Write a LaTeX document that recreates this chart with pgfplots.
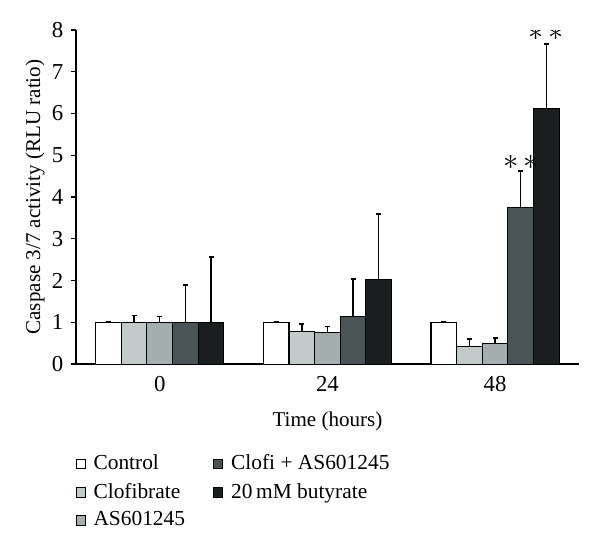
\documentclass[border=0pt]{standalone}
\usepackage{pgfplots}
\pgfplotsset{compat=1.18}
\usepackage{fontspec}
\setmainfont{Liberation Serif}
\definecolor{cA}{HTML}{FFFFFF}
\definecolor{cB}{HTML}{C2CACA}
\definecolor{cC}{HTML}{A5AEAE}
\definecolor{cD}{HTML}{4A5456}
\definecolor{cE}{HTML}{1B1E1F}
\begin{document}
\fontsize{12}{14.4}\selectfont
\begin{tikzpicture}
\useasboundingbox (-43.3pt,-106pt) rectangle (298.7pt,207.5pt);
\begin{axis}[
  at={(0,0)}, anchor=south west,
  scale only axis,
  width=286.7pt, height=190.4pt,
  xmin=-0.5, xmax=2.5, ymin=0, ymax=8,
  axis lines=left,
  axis line style={line width=0.8pt, -},
  ybar=0pt, bar width=0.153,
  xtick={0,1,2}, xticklabels={0,24,48},
  major x tick style={draw=none},
  extra x ticks={0.5,1.5,2.5}, extra x tick labels={},
  extra x tick style={tick style={line width=0.8pt, black}, major tick length=3pt},
  xtick pos=bottom, tick align=outside,
  ytick={0,1,...,8},
  y tick style={line width=0.8pt, black},
  major tick length=3pt,
  /pgf/number format/assume math mode=true,
  ticklabel style={font=\fontsize{13}{15}\selectfont},
  xticklabel style={yshift=0pt},
  xlabel={Time (hours)},
  ylabel={Caspase 3/7 activity (RLU ratio)},
  label style={font=\fontsize{12}{14.4}\selectfont},
  xlabel style={yshift=3pt},
  ylabel style={yshift=-4pt},
  every axis plot/.append style={draw=black, line width=0.6pt},
  error bars/y dir=plus, error bars/y explicit,
  error bars/error mark=-,
  error bars/error mark options={mark size=1.4pt, line width=0.9pt, rotate=90},
  error bars/error bar style={line width=0.8pt, black},
  legend columns=3, transpose legend, legend cell align=left,
  legend style={at={(-0.012,-0.25)}, anchor=north west, draw=none, fill=none,
    font=\fontsize{12.2}{14.4}\selectfont, row sep=1.8pt,
    /tikz/column 2/.style={column sep=14pt}},
  legend image code/.code={\path[draw=none,fill=none] (0pt,0pt) -- (8pt,0pt);\draw[#1, line width=0.5pt] (0pt,-2.6pt) rectangle (5.2pt,2.6pt);},
]
\addplot[fill=cA] coordinates {(0,1) +- (0,0) (1,1) +- (0,0) (2,1) +- (0,0)};
\addplot[fill=cB] coordinates {(0,1) +- (0,0.16) (1,0.79) +- (0,0.17) (2,0.42) +- (0,0.18)};
\addplot[fill=cC] coordinates {(0,1) +- (0,0.14) (1,0.75) +- (0,0.15) (2,0.49) +- (0,0.14)};
\addplot[fill=cD] coordinates {(0,1) +- (0,0.89) (1,1.13) +- (0,0.90) (2,3.74) +- (0,0.89)};
\addplot[fill=cE] coordinates {(0,1) +- (0,1.56) (1,2.03) +- (0,1.57) (2,6.12) +- (0,1.55)};
\legend{Control,Clofibrate,AS601245,Clofi + AS601245,20\,mM butyrate}
\node[font=\LARGE] at (axis cs:2.153,4.82) {$\ast\,\ast$};
\node[font=\LARGE] at (axis cs:2.306,7.92) {$\ast\,\ast$};
\end{axis}
\end{tikzpicture}
\end{document}
